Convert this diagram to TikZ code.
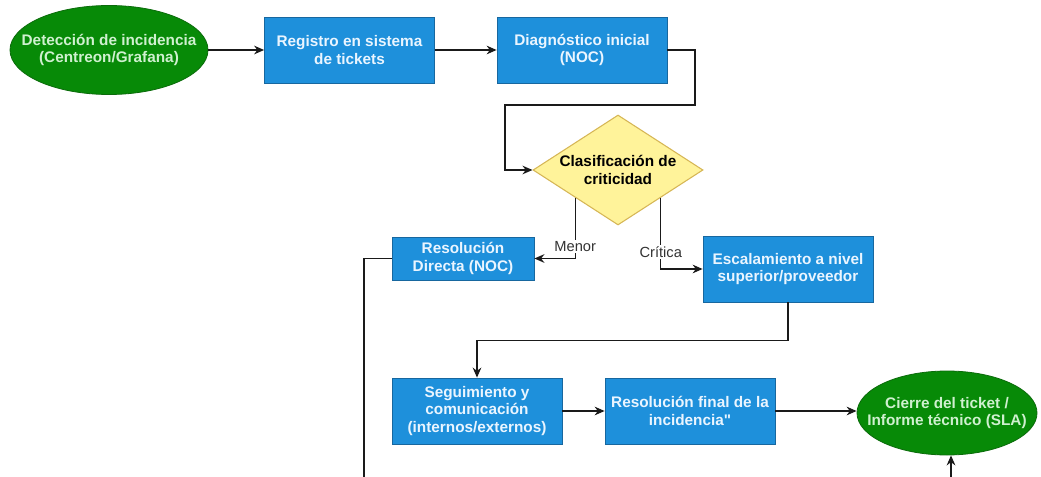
\documentclass[tikz,border=0pt]{standalone}
\usepackage{fontspec}
\setmainfont{Liberation Sans}
\usetikzlibrary{shapes.geometric,arrows.meta}
\definecolor{boxblue}{HTML}{1E90DB}
\definecolor{boxedge}{HTML}{17679F}
\definecolor{egreen}{HTML}{078A07}
\definecolor{egreenedge}{HTML}{0B6B0B}
\definecolor{etext}{HTML}{CFF0CF}
\definecolor{btext}{HTML}{EAF5FF}
\definecolor{dfill}{HTML}{FFF39A}
\definecolor{dedge}{HTML}{D6B656}
\definecolor{lncol}{HTML}{1A1A1A}
\definecolor{lblcol}{HTML}{333333}
\begin{document}
\begin{tikzpicture}[x=0.75pt,y=-0.75pt,
  txt/.style={font=\bfseries\fontsize{11.5}{13}\selectfont, align=center, inner sep=0pt},
  proc/.style={rectangle, draw=boxedge, fill=boxblue, line width=0.6pt, txt, text=btext,
    minimum width=127.5pt, minimum height=49.5pt},
  smallproc/.style={proc, minimum width=106.5pt, minimum height=32.25pt},
  term/.style={ellipse, draw=egreenedge, fill=egreen, line width=0.6pt, inner sep=0pt},
  termtxt/.style={txt, text=etext},
  decis/.style={diamond, draw=dedge, fill=dfill, line width=0.8pt, inner sep=0pt,
    minimum width=127.5pt, minimum height=82.5pt},
  dectxt/.style={txt, text=black},
  conn/.style={draw=lncol, line width=1pt, -{Stealth[length=7.5pt,width=6.5pt]}},
  lbl/.style={font=\fontsize{11}{13}\selectfont, text=lblcol, fill=white, inner sep=1pt}
]
\useasboundingbox (0,0) rectangle (1041,477);
\clip (0,0) rectangle (1041,477);

% nodes
\node[term, minimum width=148.5pt, minimum height=66.75pt] (e1) at (109,50) {};
\node[termtxt] (e1t) at (e1.center) {Detección de incidencia\\(Centreon/Grafana)};
\node[proc] (reg) at (349.5,50) {Registro en sistema\\de tickets};
\node[proc] (diag) at (582,50) {Diagnóstico inicial\\(NOC)};
\node[decis] (dec) at (618,170) {};
\node[dectxt] (dect) at (dec.center) {Clasificación de\\criticidad};
\node[smallproc] (dir) at (463,258.5) {Resolución\\Directa (NOC)};
\node[proc] (esc) at (788,269) {Escalamiento a nivel\\superior/proveedor};
\node[proc] (seg) at (477,411) {Seguimiento y\\comunicación\\(internos/externos)};
\node[proc] (fin) at (690,411) {Resolución final de la\\incidencia\textquotedbl};
\node[term, minimum width=135pt, minimum height=63pt] (e2) at (947,413) {};
\node[termtxt] (e2t) at (e2.center) {Cierre del ticket /\\Informe técnico (SLA)};

% connectors
\draw[conn] (e1.east) -- (reg.west);
\draw[conn] (reg.east) -- (diag.west);
\draw[conn] (diag.east) -- (695,50) -- (695,105) -- (505,105) -- (505,170) -- (dec.west);
\draw[conn] (dec.south west) |- (dir.east) node[lbl, pos=0.4] {Menor};
\draw[conn] (dec.south east) |- (esc.west) node[lbl, pos=0.38] {Crítica};
\draw[conn] (esc.south) -- ++(0,38) -| (seg.north);
\draw[conn] (seg.east) -- (fin.west);
\draw[conn] (fin.east) -- (fin.east -| e2.west);
\coordinate (low) at (364,500);
\draw[conn] (dir.west) -| (low) -| ([xshift=3]e2.south);
\end{tikzpicture}
\end{document}
